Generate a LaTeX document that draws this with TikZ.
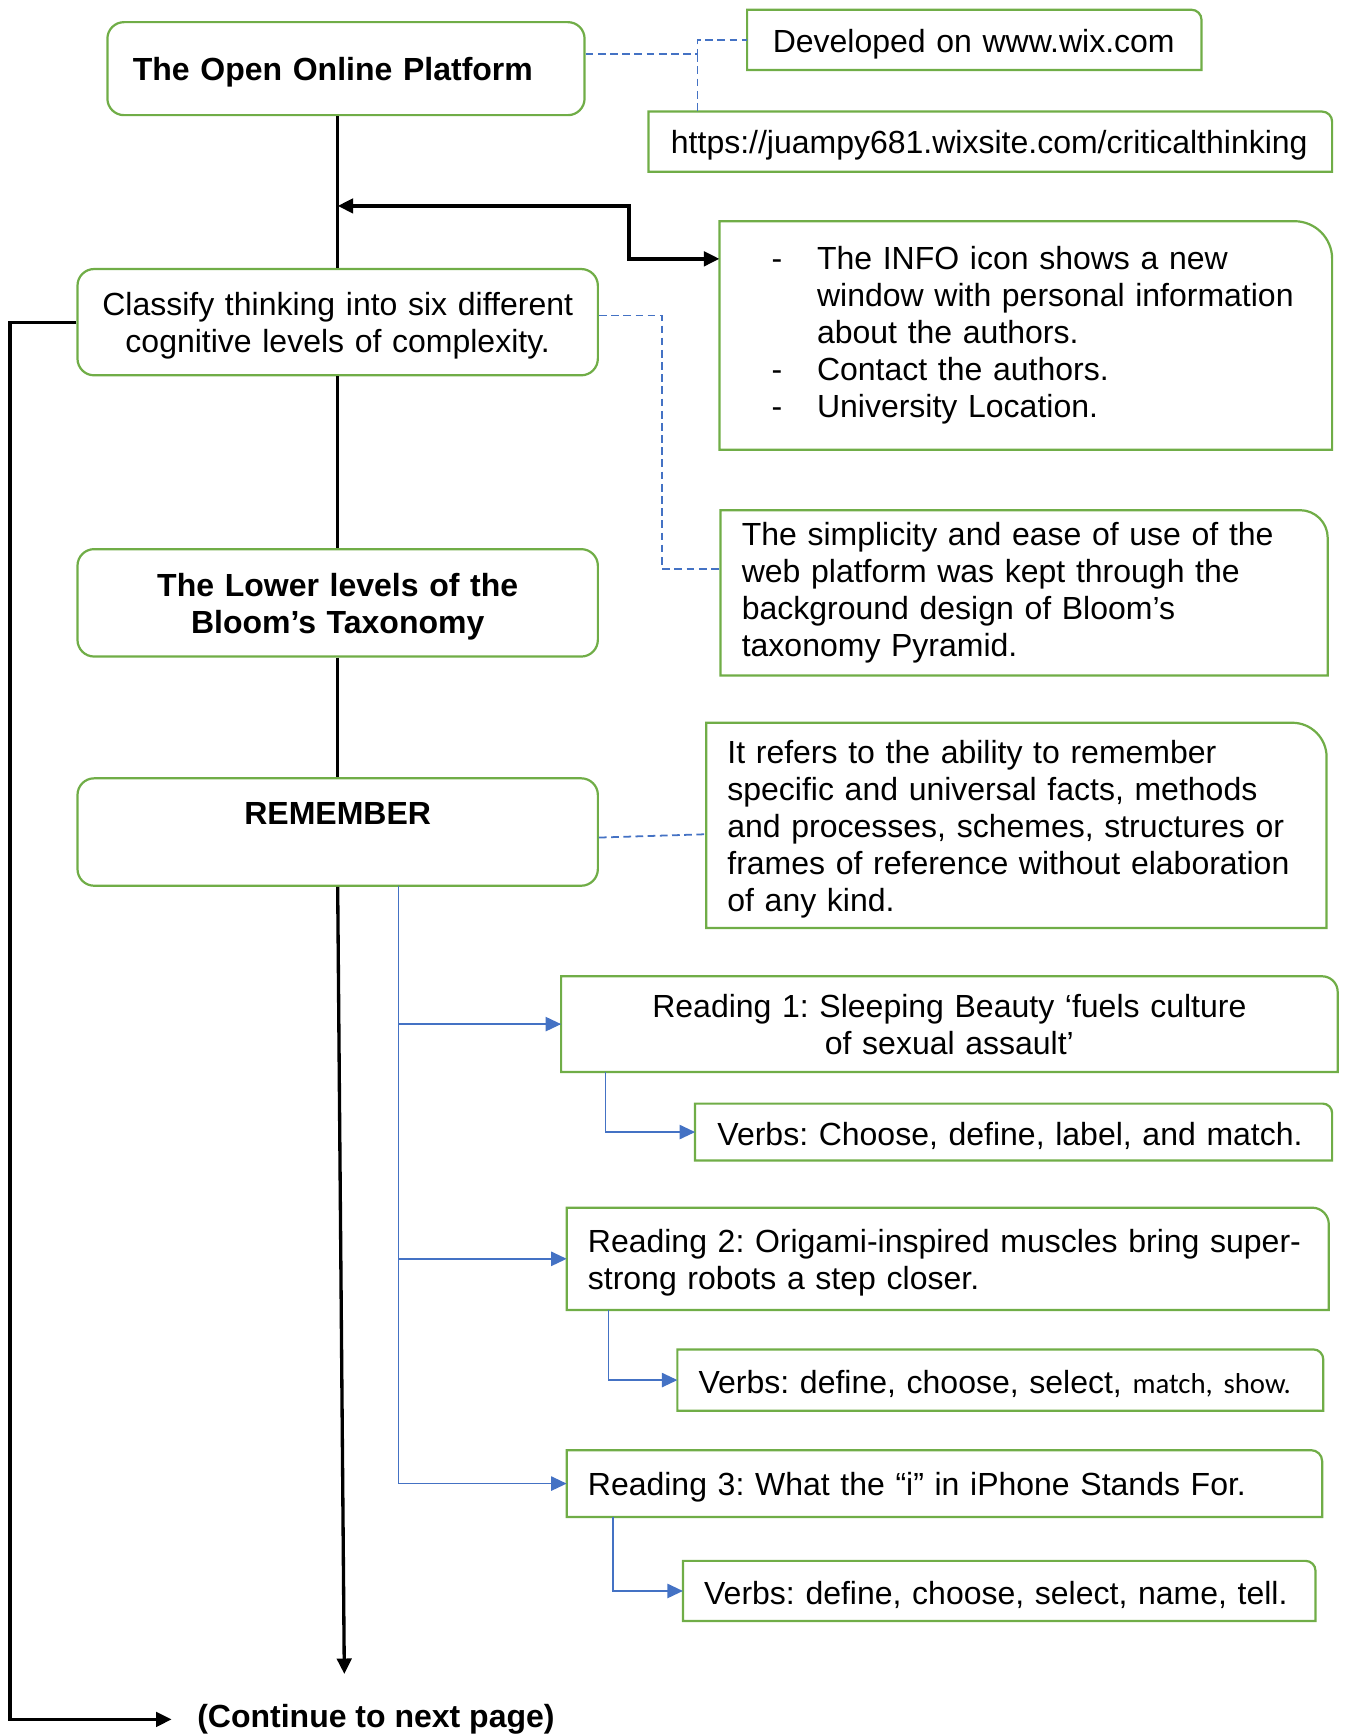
\documentclass[tikz,border=0pt]{standalone}
\usepackage{fontspec}
\setmainfont{Liberation Sans}
\newfontfamily\calfont{Carlito}
\usetikzlibrary{arrows.meta,positioning}
\definecolor{boxcol}{RGB}{112,173,71}
\definecolor{linkcol}{RGB}{68,114,196}
\newcommand{\boxfont}{\fontsize{28.9}{33.4}\selectfont\frenchspacing}
\tikzset{
  % rounded green box
  rbox/.style={rectangle, rounded corners=15pt, draw=boxcol, line width=2pt, inner ysep=0pt, font=\boxfont},
  % green box with one round corner, frame drawn by \cornerframe
  cbox/.style={rectangle, inner ysep=0pt, align=left, font=\boxfont},
  % push the text a little down
  lowtext/.style={execute at begin node={\rule{0pt}{28pt}}},
  % black main line
  trunk/.style={line width=3pt, black},
  % dashed note link
  notelink/.style={linkcol, line width=1.6pt, dash pattern=on 7pt off 4pt},
  % thin tree arrow
  treearrow/.style={linkcol, line width=1.2pt, -{Triangle[length=14pt,width=13pt]}},
}
% frame with the top right corner rounded
\newcommand{\cornerframe}[2]{%
  \draw[boxcol, line width=2pt] (#1.south west) -- (#1.north west) -- ([xshift=-#2]#1.north east)
    arc[start angle=90, end angle=0, radius=#2] -- (#1.south east) -- cycle;}
\newcommand{\dashitem}{\makebox[61.5pt][l]{\hspace{20.5pt}-}}

\begin{document}
\begin{tikzpicture}[x=1pt, y=-1pt]
  \useasboundingbox (0,0) rectangle (1215,1568);

  % left column
  \node[rbox, lowtext, minimum width=431pt, minimum height=84pt, inner xsep=23pt, text width=385pt, align=left,
        font=\boxfont\bfseries] (plat) at (312.5,62) {The Open Online Platform};
  \node[rbox, lowtext, minimum width=470pt, minimum height=96pt, inner xsep=20pt, text width=430pt, align=center]
        (cls) at (305,291) {Classify thinking into six different\\cognitive levels of complexity.};
  \node[rbox, lowtext, minimum width=470pt, minimum height=97pt, inner xsep=20pt, text width=430pt, align=center,
        font=\boxfont\bfseries] (low) at (305,544.5) {The Lower levels of the\\Bloom’s Taxonomy};
  \node[rbox, minimum width=470pt, minimum height=97pt, inner xsep=20pt, text width=430pt, align=center,
        font=\boxfont\bfseries] (rem) at (305,751.5) {REMEMBER\\\mbox{}};
  \node[anchor=west, inner xsep=8pt, font=\boxfont\bfseries] (cont) at (170,1553) {(Continue to next page)};

  % notes
  \node[cbox, lowtext, minimum width=410pt, minimum height=54pt, inner xsep=23pt, text width=364pt]
        (dev) at (880,36) {Developed on www.wix.com};
  \cornerframe{dev}{9pt}
  \node[cbox, lowtext, minimum width=617pt, minimum height=54pt, inner xsep=20pt, text width=577pt]
        (url) at (894.5,128) {https://juampy681.wixsite.com/criticalthinking};
  \cornerframe{url}{9pt}
  \node[cbox, minimum width=553pt, minimum height=206pt, inner xsep=26.5pt, text width=500pt]
        (info) at (926.5,303) {\dashitem The INFO icon shows a new\\
        \hspace*{61.5pt}window with personal information\\
        \hspace*{61.5pt}about the authors.\\
        \dashitem Contact the authors.\\
        \dashitem University Location.};
  \cornerframe{info}{34pt}
  \node[cbox, minimum width=548pt, minimum height=149pt, inner xsep=19pt, text width=510pt]
        (simp) at (925,535.5) {The simplicity and ease of use of the\\web platform was kept through the\\
        background design of Bloom’s\\taxonomy Pyramid.};
  \cornerframe{simp}{25pt}
  \node[cbox, lowtext, minimum width=560pt, minimum height=185pt, inner xsep=19pt, text width=522pt]
        (ref) at (918,745.5) {It refers to the ability to remember\\specific and universal facts, methods\\
        and processes, schemes, structures or\\frames of reference without elaboration\\of any kind.};
  \cornerframe{ref}{31pt}

  % readings
  \node[cbox, minimum width=701pt, minimum height=86pt, inner xsep=19pt, text width=663pt, align=center]
        (r1) at (857.5,925) {Reading 1: Sleeping Beauty ‘fuels culture\\of sexual assault’};
  \cornerframe{r1}{14pt}
  \node[cbox, lowtext, minimum width=575pt, minimum height=51pt, inner xsep=20pt, text width=535pt]
        (v1) at (915.5,1022.5) {Verbs: Choose, define, label, and match.};
  \cornerframe{v1}{8.5pt}
  \node[cbox, lowtext, minimum width=688pt, minimum height=92pt, inner xsep=19pt, text width=650pt]
        (r2) at (856,1137) {Reading 2: Origami-inspired muscles bring super-\\strong robots a step closer.};
  \cornerframe{r2}{15pt}
  \node[cbox, lowtext, minimum width=583pt, minimum height=55pt, inner xsep=19pt, text width=545pt]
        (v2) at (903.5,1246.5) {Verbs: define, choose, select, {\calfont\fontsize{26}{33.4}\selectfont match, show.}};
  \cornerframe{v2}{9pt}
  \node[cbox, lowtext, minimum width=682pt, minimum height=60pt, inner xsep=19pt, text width=644pt]
        (r3) at (853,1340) {Reading 3: What the “i” in iPhone Stands For.};
  \cornerframe{r3}{10pt}
  \node[cbox, lowtext, minimum width=571pt, minimum height=54pt, inner xsep=19pt, text width=533pt]
        (v3) at (902.5,1437) {Verbs: define, choose, select, name, tell.};
  \cornerframe{v3}{9pt}

  % black trunk
  \draw[trunk] (cls.north |- plat.south) -- (cls.north);
  \draw[trunk] (cls.south) -- (low.north);
  \draw[trunk] (low.south) -- (rem.north);
  \coordinate (trunkend) at (311,1512);
  \draw[trunk, -{Triangle[length=14pt,width=13pt]}] (rem.south) -- (trunkend);
  \coordinate (infojoin) at (305,186);
  \draw[trunk, {Triangle[length=14pt,width=13pt]}-{Triangle[length=14pt,width=13pt]}]
        (infojoin) -- (568,186) |- ([yshift=-34pt]info.north west);
  \draw[trunk, -{Triangle[length=14pt,width=13pt]}, shorten >=15pt] (cls.west) -- ++(-60,0) |- (cont.west);

  % dashed links
  \coordinate (devjoin) at (630,49);
  \draw[notelink] ([yshift=13pt]plat.east) -- (devjoin) |- (dev.west);
  \draw[notelink] (devjoin) -- (devjoin |- url.north);
  \draw[notelink] ([yshift=6pt]cls.east) -- (598,285) |- ([yshift=-53pt]simp.north west);
  \draw[notelink] ([yshift=-5pt]rem.east) -- ([yshift=-8pt]ref.west);

  % tree of readings
  \coordinate (rembr) at (360,800);
  \draw[treearrow] (rembr) |- (r1.west);
  \draw[treearrow] (rembr) |- (r2.west);
  \draw[treearrow] (rembr) |- (r3.west);
  \draw[treearrow] ([xshift=40pt]r1.south west) |- (v1.west);
  \draw[treearrow] ([xshift=38pt]r2.south west) |- (v2.west);
  \draw[treearrow] ([xshift=42pt]r3.south west) |- (v3.west);
\end{tikzpicture}
\end{document}
